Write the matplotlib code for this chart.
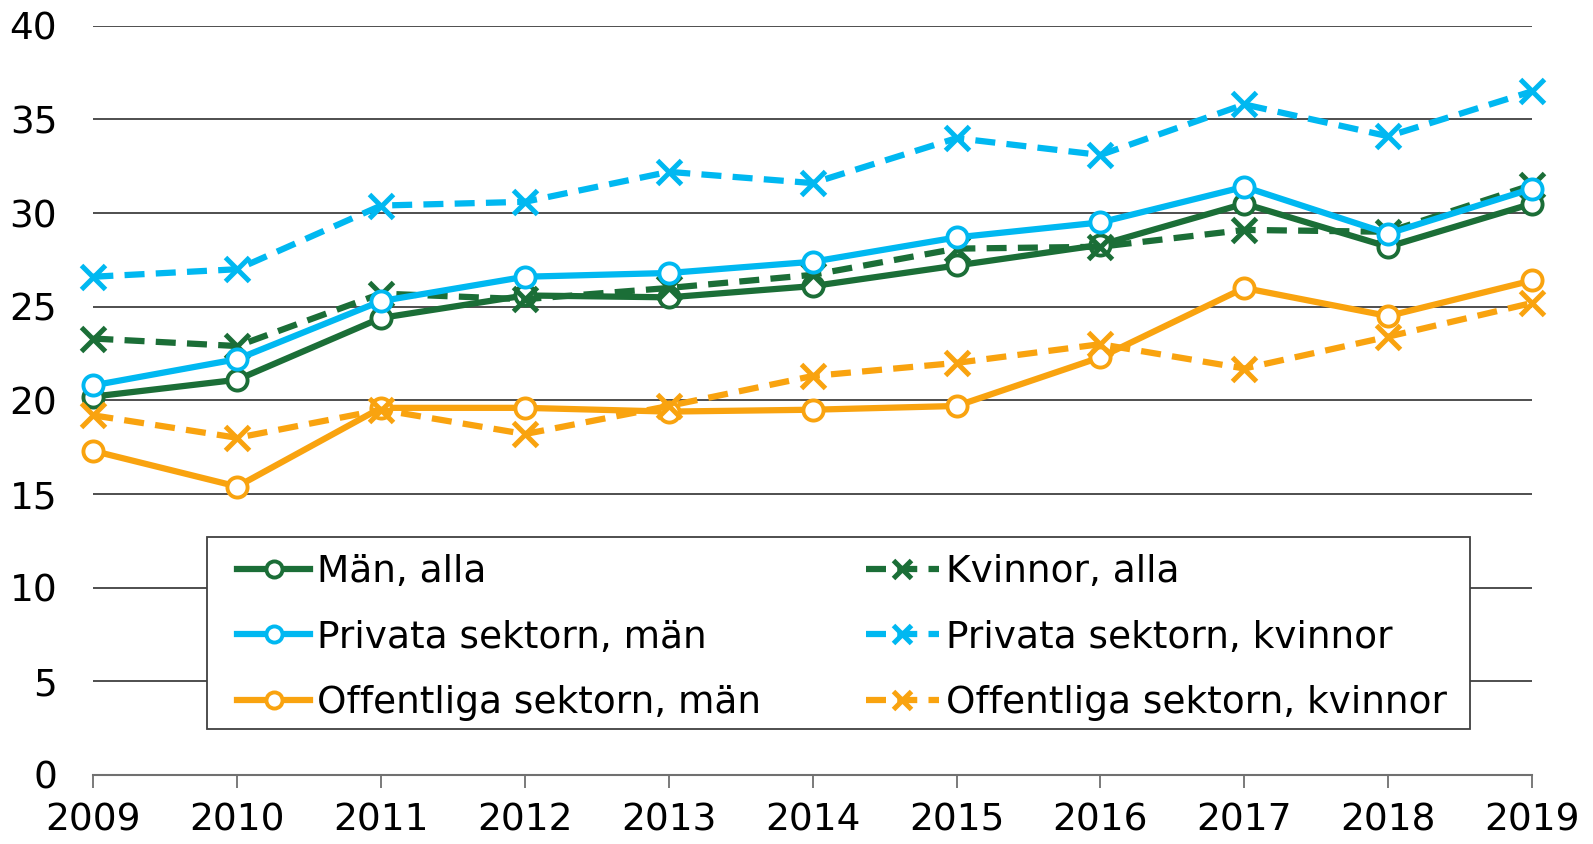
import matplotlib
matplotlib.use("Agg")
import matplotlib.pyplot as plt
from matplotlib.patches import Rectangle

plt.rcParams['font.family'] = ['DejaVu Sans']

years = [2009, 2010, 2011, 2012, 2013, 2014, 2015, 2016, 2017, 2018, 2019]
man_alla = [20.2, 21.1, 24.4, 25.6, 25.5, 26.1, 27.2, 28.3, 30.5, 28.2, 30.5]
kvinnor_alla = [23.3, 22.9, 25.7, 25.4, 26.0, 26.7, 28.1, 28.2, 29.1, 29.0, 31.5]
priv_man = [20.8, 22.2, 25.3, 26.6, 26.8, 27.4, 28.7, 29.5, 31.4, 28.9, 31.3]
priv_kvinnor = [26.6, 27.0, 30.4, 30.6, 32.2, 31.6, 34.0, 33.1, 35.8, 34.1, 36.5]
off_man = [17.3, 15.4, 19.6, 19.6, 19.4, 19.5, 19.7, 22.3, 26.0, 24.5, 26.4]
off_kvinnor = [19.2, 18.0, 19.5, 18.2, 19.7, 21.3, 22.0, 23.0, 21.7, 23.4, 25.2]

labels = ["Män, alla", "Kvinnor, alla", "Privata sektorn, män",
          "Privata sektorn, kvinnor", "Offentliga sektorn, män",
          "Offentliga sektorn, kvinnor"]
yticks = [0, 5, 10, 15, 20, 25, 30, 35, 40]

GREEN = '#1b6e37'
BLUE = '#00b8f1'
ORANGE = '#f9a30f'

series = [man_alla, kvinnor_alla, priv_man, priv_kvinnor, off_man, off_kvinnor]
colors = [GREEN, GREEN, BLUE, BLUE, ORANGE, ORANGE]
kinds = ['o', 'x', 'o', 'x', 'o', 'x']

fig = plt.figure(figsize=(15.93, 8.44), dpi=100)
ax = fig.add_axes([0.0586, 0.0818, 0.9031, 0.8877])

handles = []
for vals, c, k, lab in zip(series, colors, kinds, labels):
    if k == 'o':
        h, = ax.plot(years, vals, color=c, lw=4.5, linestyle='-', marker='o',
                     markersize=14.5, markerfacecolor='white', markeredgecolor=c,
                     markeredgewidth=2.8, label=lab, clip_on=False, zorder=2)
    else:
        h, = ax.plot(years, vals, color=c, lw=4.5, linestyle=(0, (3.2, 1.8)),
                     marker='x', markersize=17, markeredgecolor=c,
                     markeredgewidth=3.6, label=lab, clip_on=False, zorder=2)
    handles.append(h)

ax.set_xlim(2009, 2019)
ax.set_ylim(0, 40)
ax.set_yticks(yticks)
ax.set_xticks(years)
ax.yaxis.grid(True, color='#404040', lw=1.3)
ax.set_axisbelow(True)
for s in ['left', 'right', 'top']:
    ax.spines[s].set_visible(False)
ax.spines['bottom'].set_color('#707070')
ax.spines['bottom'].set_linewidth(1.5)
ax.tick_params(axis='y', length=0, pad=26, labelsize=27)
ax.tick_params(axis='x', direction='out', length=9.5, width=1.3, color='#707070',
               pad=10, labelsize=27)

# legend frame
frame = Rectangle((0.079, 0.0614), 0.8779, 0.2562, transform=ax.transAxes,
                  facecolor='white', edgecolor='#404040', lw=1.3, zorder=4,
                  clip_on=False)
ax.add_patch(frame)

order = [0, 2, 4, 1, 3, 5]
leg = ax.legend([handles[i] for i in order], [labels[i] for i in order],
                ncol=2, loc='center left',
                bbox_to_anchor=(0.0999, 0.0834, 0.841, 0.2), mode='expand',
                fontsize=27, frameon=False, markerscale=0.8, handlelength=1.95,
                handletextpad=0.19, borderaxespad=0, labelspacing=0.78,
                borderpad=0)
leg.set_zorder(5)

fig.savefig('out.png', dpi=100)
